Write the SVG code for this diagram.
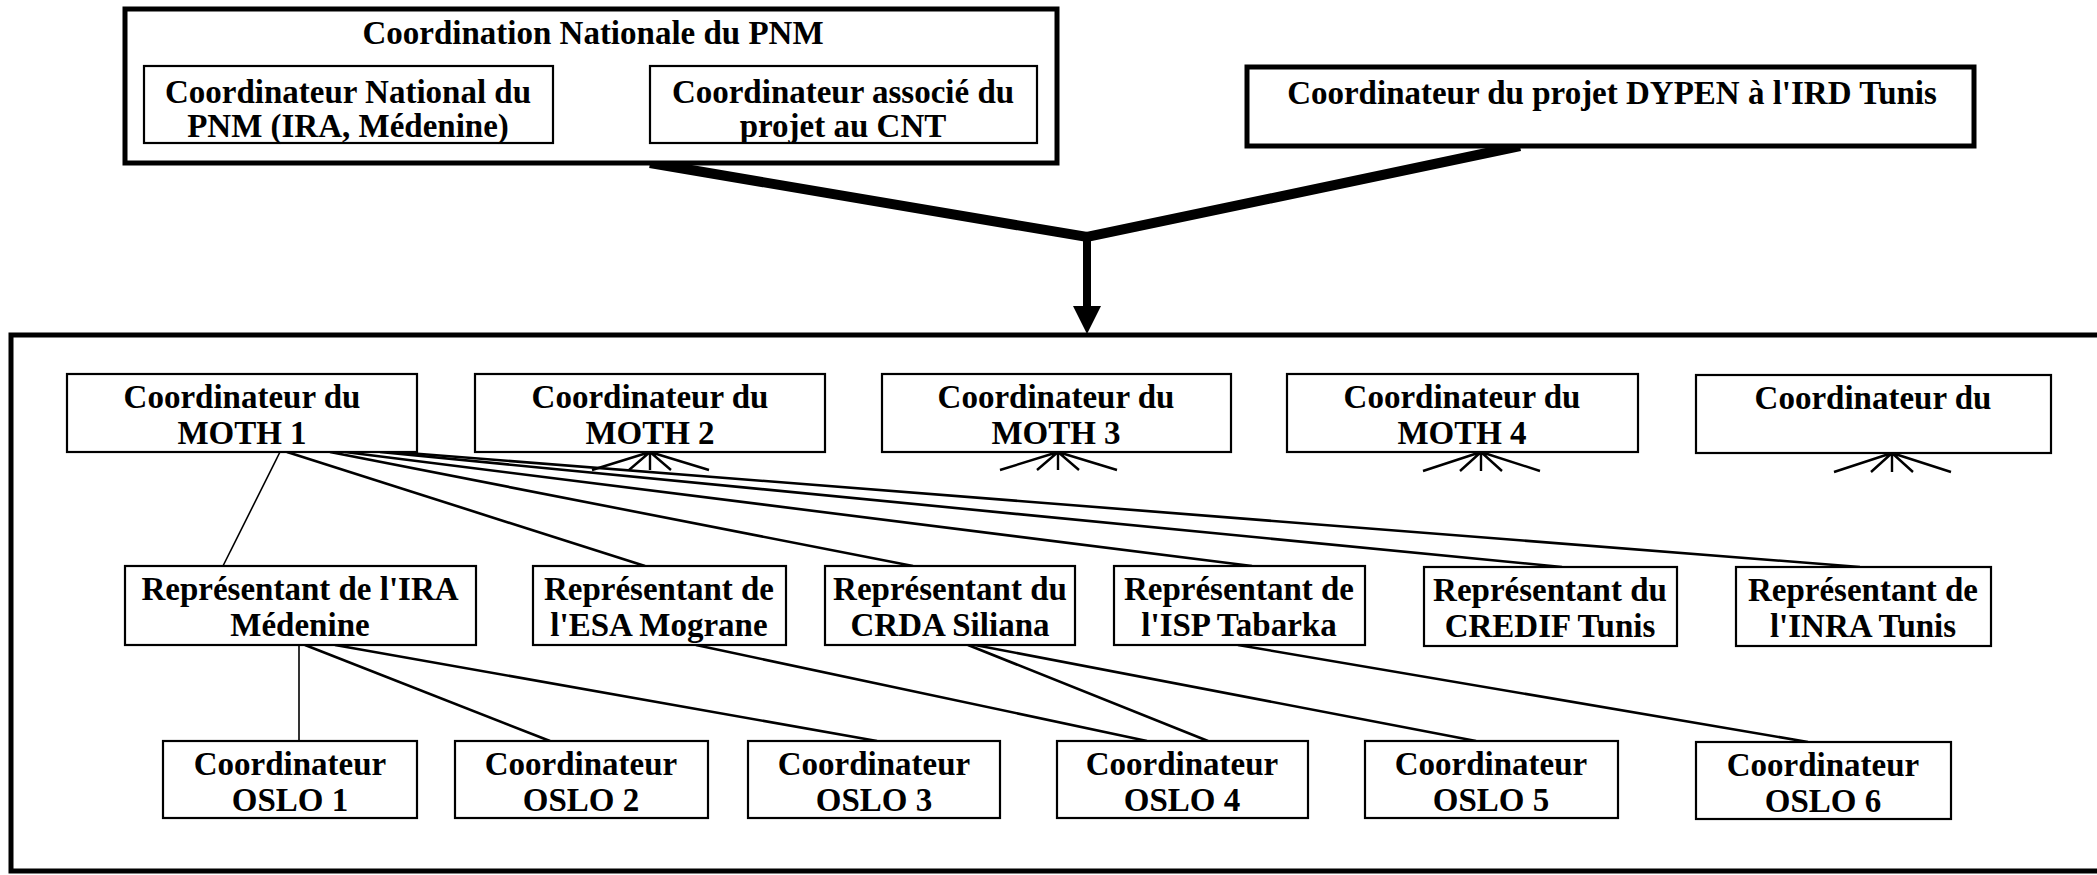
<svg xmlns="http://www.w3.org/2000/svg" width="2097" height="875" viewBox="0 0 2097 875">
<style>
.box{fill:#fff;stroke:#000;stroke-width:2.2}
.bold{fill:#fff;stroke:#000;stroke-width:5}
.t{font-family:"Liberation Serif","Times New Roman",serif;font-weight:bold;font-size:33px;text-anchor:middle;fill:#000}
.ln{stroke:#000;stroke-width:2.6;fill:none}
.thin{stroke:#000;stroke-width:1.6;fill:none}
.fan{stroke:#000;stroke-width:2.4;fill:none}
.main{stroke:#000;stroke-width:10;fill:none;stroke-linejoin:miter}
</style>
<rect width="2097" height="875" fill="#fff"/>
<g id="frame">
<path d="M2105 335 H11 V871 H2105" fill="none" stroke="#000" stroke-width="5"/>
</g>
<g id="connectors">
<polyline class="main" points="650,163 1087,237 1520,146"/>
<line x1="1087" y1="236" x2="1087" y2="308" stroke="#000" stroke-width="8"/>
<polygon points="1073,306 1101,306 1087,334" fill="#000"/>
<line class="thin" x1="280" y1="452" x2="223" y2="566"/>
<line class="ln" x1="287" y1="452" x2="645" y2="566"/>
<line class="ln" x1="330" y1="452" x2="913" y2="566"/>
<line class="ln" x1="345" y1="452" x2="1252" y2="566"/>
<line class="ln" x1="380" y1="452" x2="1562" y2="567"/>
<line class="ln" x1="395" y1="452" x2="1860" y2="567"/>
<line class="thin" x1="299" y1="645" x2="299" y2="741"/>
<line class="ln" x1="305" y1="645" x2="550" y2="741"/>
<line class="ln" x1="335" y1="645" x2="877" y2="741"/>
<line class="ln" x1="696" y1="645" x2="1147" y2="741"/>
<line class="ln" x1="968" y1="645" x2="1208" y2="741"/>
<line class="ln" x1="975" y1="645" x2="1476" y2="741"/>
<line class="ln" x1="1238" y1="645" x2="1808" y2="742"/>
<path class="fan" d="M650 452 l-58 18 M650 452 l-21 18 M650 452 v18 M650 452 l21 18 M650 452 l59 18"/>
<path class="fan" d="M1058 452 l-58 18 M1058 452 l-21 18 M1058 452 v18 M1058 452 l21 18 M1058 452 l59 18"/>
<path class="fan" d="M1481 452 l-58 19 M1481 452 l-21 19 M1481 452 v19 M1481 452 l21 19 M1481 452 l59 19"/>
<path class="fan" d="M1892 453 l-58 19 M1892 453 l-21 19 M1892 453 v19 M1892 453 l21 19 M1892 453 l59 19"/>
</g>
<g id="pnm">
<rect class="bold" x="125" y="9" width="932" height="154"/>
<text class="t" x="593" y="44">Coordination Nationale du PNM</text>
</g>
<g id="coord-national">
<rect class="box" x="144" y="66" width="409" height="77"/>
<text class="t" x="348" y="103">Coordinateur National du</text>
<text class="t" x="348" y="137">PNM (IRA, Médenine)</text>
</g>
<g id="coord-associe">
<rect class="box" x="650" y="66" width="387" height="77"/>
<text class="t" x="843" y="103">Coordinateur associé du</text>
<text class="t" x="843" y="137">projet au CNT</text>
</g>
<g id="dypen">
<rect class="bold" x="1247" y="67" width="727" height="79"/>
<text class="t" x="1612" y="104">Coordinateur du projet DYPEN à l'IRD Tunis</text>
</g>
<g id="moth1">
<rect class="box" x="67" y="374" width="350" height="78"/>
<text class="t" x="242" y="408">Coordinateur du</text>
<text class="t" x="242" y="444">MOTH 1</text>
</g>
<g id="moth2">
<rect class="box" x="475" y="374" width="350" height="78"/>
<text class="t" x="650" y="408">Coordinateur du</text>
<text class="t" x="650" y="444">MOTH 2</text>
</g>
<g id="moth3">
<rect class="box" x="882" y="374" width="349" height="78"/>
<text class="t" x="1056" y="408">Coordinateur du</text>
<text class="t" x="1056" y="444">MOTH 3</text>
</g>
<g id="moth4">
<rect class="box" x="1287" y="374" width="351" height="78"/>
<text class="t" x="1462" y="408">Coordinateur du</text>
<text class="t" x="1462" y="444">MOTH 4</text>
</g>
<g id="moth5">
<rect class="box" x="1696" y="375" width="355" height="78"/>
<text class="t" x="1873" y="409">Coordinateur du</text>
</g>
<g id="rep-ira">
<rect class="box" x="125" y="566" width="351" height="79"/>
<text class="t" x="300" y="600">Représentant de l'IRA</text>
<text class="t" x="300" y="636">Médenine</text>
</g>
<g id="rep-esa">
<rect class="box" x="533" y="566" width="253" height="79"/>
<text class="t" x="659" y="600">Représentant de</text>
<text class="t" x="659" y="636">l'ESA Mograne</text>
</g>
<g id="rep-crda">
<rect class="box" x="825" y="566" width="250" height="79"/>
<text class="t" x="950" y="600">Représentant du</text>
<text class="t" x="950" y="636">CRDA Siliana</text>
</g>
<g id="rep-isp">
<rect class="box" x="1114" y="566" width="251" height="79"/>
<text class="t" x="1239" y="600">Représentant de</text>
<text class="t" x="1239" y="636">l'ISP Tabarka</text>
</g>
<g id="rep-credif">
<rect class="box" x="1424" y="567" width="253" height="79"/>
<text class="t" x="1550" y="601">Représentant du</text>
<text class="t" x="1550" y="637">CREDIF Tunis</text>
</g>
<g id="rep-inra">
<rect class="box" x="1736" y="567" width="255" height="79"/>
<text class="t" x="1863" y="601">Représentant de</text>
<text class="t" x="1863" y="637">l'INRA Tunis</text>
</g>
<g id="oslo1">
<rect class="box" x="163" y="741" width="254" height="77"/>
<text class="t" x="290" y="775">Coordinateur</text>
<text class="t" x="290" y="811">OSLO 1</text>
</g>
<g id="oslo2">
<rect class="box" x="455" y="741" width="253" height="77"/>
<text class="t" x="581" y="775">Coordinateur</text>
<text class="t" x="581" y="811">OSLO 2</text>
</g>
<g id="oslo3">
<rect class="box" x="748" y="741" width="252" height="77"/>
<text class="t" x="874" y="775">Coordinateur</text>
<text class="t" x="874" y="811">OSLO 3</text>
</g>
<g id="oslo4">
<rect class="box" x="1057" y="741" width="251" height="77"/>
<text class="t" x="1182" y="775">Coordinateur</text>
<text class="t" x="1182" y="811">OSLO 4</text>
</g>
<g id="oslo5">
<rect class="box" x="1365" y="741" width="253" height="77"/>
<text class="t" x="1491" y="775">Coordinateur</text>
<text class="t" x="1491" y="811">OSLO 5</text>
</g>
<g id="oslo6">
<rect class="box" x="1696" y="742" width="255" height="77"/>
<text class="t" x="1823" y="776">Coordinateur</text>
<text class="t" x="1823" y="812">OSLO 6</text>
</g>
</svg>
